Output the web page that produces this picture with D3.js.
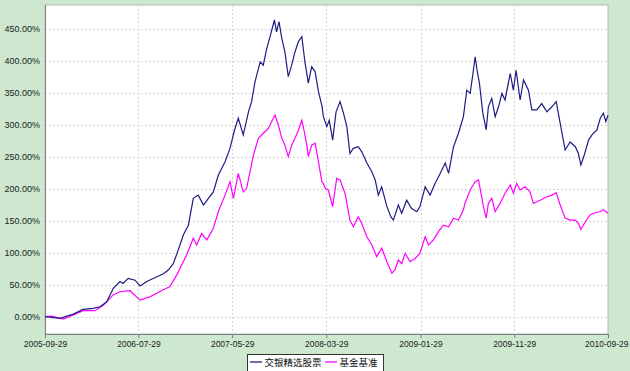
<!DOCTYPE html>
<html>
<head>
<meta charset="utf-8">
<script src="https://cdn.jsdelivr.net/npm/d3@7/dist/d3.min.js"></script>
<style>
  body { margin: 0; background: #cde8cf; }
  svg { display: block; font-family: "Liberation Sans", Arial, sans-serif; }
</style>
</head>
<body>
<svg width="630" height="371"></svg>
<script>
// fund: 交银精选股票 (cumulative return, %)
const fundDates = ["2005-09-29","2005-11-16","2005-12-30","2006-01-30","2006-03-04","2006-03-26","2006-04-17","2006-05-08","2006-05-30","2006-06-09","2006-06-26","2006-07-18","2006-08-03","2006-08-25","2006-09-27","2006-10-18","2006-11-03","2006-11-19","2006-12-05","2006-12-22","2007-01-07","2007-01-23","2007-02-08","2007-02-25","2007-03-13","2007-03-29","2007-04-14","2007-05-06","2007-05-22","2007-06-07","2007-06-18","2007-07-04","2007-07-21","2007-07-31","2007-08-11","2007-08-28","2007-09-07","2007-09-18","2007-09-29","2007-10-13","2007-10-20","2007-10-28","2007-11-06","2007-11-16","2007-11-27","2007-12-08","2007-12-19","2007-12-30","2008-01-10","2008-01-20","2008-01-31","2008-02-11","2008-02-22","2008-03-04","2008-03-15","2008-03-20","2008-03-31","2008-04-08","2008-04-19","2008-04-30","2008-05-13","2008-05-24","2008-06-04","2008-06-14","2008-06-25","2008-07-11","2008-07-22","2008-08-08","2008-08-24","2008-09-04","2008-09-14","2008-09-25","2008-10-12","2008-10-25","2008-11-02","2008-11-18","2008-11-29","2008-12-15","2008-12-31","2009-01-17","2009-01-27","2009-02-13","2009-03-01","2009-03-17","2009-04-03","2009-04-19","2009-04-30","2009-05-16","2009-06-01","2009-06-17","2009-06-28","2009-07-09","2009-07-18","2009-07-25","2009-08-02","2009-08-08","2009-08-19","2009-08-30","2009-09-06","2009-09-17","2009-09-28","2009-10-09","2009-10-20","2009-10-30","2009-11-16","2009-11-26","2009-12-05","2009-12-18","2009-12-29","2010-01-14","2010-01-25","2010-02-10","2010-02-26","2010-03-15","2010-03-31","2010-04-14","2010-04-27","2010-05-13","2010-05-29","2010-06-15","2010-06-25","2010-07-03","2010-07-14","2010-07-28","2010-08-08","2010-08-24","2010-09-04","2010-09-14","2010-09-22","2010-09-29"];
const fundValues = [0,-2.5,4,11.5,13,15.6,23,44,55,52,60,57,48,55,62.5,67,73,83,104,128,143,185,190,174.5,185,195,221,242,263,294,310,284,320,336,367,398,393,419,437.5,463.6,445,461,435,414,375,393,414,430,437.5,398,365,390.6,383,351.6,330,312.5,297,307,276,320,336,318,297,255,263,265.6,258,240,226.6,213.6,190,203,172,156,151,174.5,161.6,182,169,164,172,203,190,208,224,240,224,265.6,286.6,312.5,354,349,380,406,380,365,318,292,328,341,312.5,328,349,338.6,380,354,385,338.6,370,354,323,323,333,320,328,336,302,260.5,273,265.6,255,237,252.7,276,284,292,310,318,305,315];

// benchmark: 基金基准
const benchDates = ["2005-09-29","2005-10-21","2005-11-27","2005-12-30","2006-01-31","2006-03-10","2006-04-06","2006-05-08","2006-05-30","2006-07-02","2006-08-03","2006-09-04","2006-10-18","2006-11-08","2006-11-30","2006-12-11","2007-01-01","2007-01-23","2007-02-03","2007-02-19","2007-03-08","2007-03-29","2007-04-14","2007-05-06","2007-05-22","2007-06-02","2007-06-18","2007-07-04","2007-07-15","2007-07-26","2007-08-06","2007-08-22","2007-09-07","2007-09-23","2007-10-04","2007-10-15","2007-10-26","2007-11-06","2007-11-16","2007-11-27","2007-12-08","2007-12-19","2007-12-30","2008-01-10","2008-01-17","2008-01-26","2008-01-31","2008-02-11","2008-02-22","2008-03-04","2008-03-15","2008-03-20","2008-03-26","2008-04-05","2008-04-19","2008-05-02","2008-05-13","2008-05-29","2008-06-14","2008-06-25","2008-07-11","2008-07-22","2008-08-08","2008-08-24","2008-09-09","2008-09-25","2008-10-12","2008-10-28","2008-11-07","2008-11-18","2008-11-29","2008-12-10","2008-12-26","2009-01-11","2009-01-27","2009-02-13","2009-02-24","2009-03-12","2009-03-28","2009-04-13","2009-04-30","2009-05-16","2009-06-01","2009-06-17","2009-06-22","2009-07-09","2009-07-25","2009-08-05","2009-08-13","2009-08-21","2009-08-30","2009-09-06","2009-09-17","2009-09-28","2009-10-14","2009-10-30","2009-11-16","2009-11-26","2009-12-07","2009-12-18","2010-01-03","2010-01-19","2010-01-30","2010-02-21","2010-03-15","2010-03-31","2010-04-14","2010-04-27","2010-05-13","2010-05-29","2010-06-15","2010-06-25","2010-07-03","2010-07-17","2010-08-02","2010-08-18","2010-09-04","2010-09-14","2010-09-29"];
const benchValues = [0,1,-3.6,2.6,9.4,9.4,18,34,39,40.6,26,31,42,47,65,75.6,96,122.5,112,130,120,138,164,190,211,185,224,195,200.6,226.6,252.7,278.7,286.6,294,304.7,315,299.5,278.7,268,250,268,278.7,291.7,307,291.7,268,250,268,271,242,211,208,200.6,198,172,216,213.6,193,151,140.6,156,146,125,112,93.75,107,86,68,73,88.6,83,99,86,91,99,125,112,120,133,143,140.6,154,151,167,177,198,211,213.6,193,172,154,177,185,164,177,193,206,193,208,198,203,195,177,182,187.5,190,194,174.5,154,151,151,146,136.6,148,159,162.5,164,167,161.6];

const xTickLabels = ["2005-09-29","2006-07-29","2007-05-29","2008-03-29","2009-01-29","2009-11-29","2010-09-29"];
const yTicks = [0,50,100,150,200,250,300,350,400,450];
const seriesNames = ["交银精选股票","基金基准"];
const seriesColors = ["#1e1e82","#ff00ff"];

const parse = d3.timeParse("%Y-%m-%d");
const fund = fundDates.map((d, i) => ({date: parse(d), v: fundValues[i]}));
const bench = benchDates.map((d, i) => ({date: parse(d), v: benchValues[i]}));

const svg = d3.select("svg");
const plot = {left: 45, top: 5, right: 608, bottom: 334};

const x = d3.scaleTime()
  .domain([parse(xTickLabels[0]), parse(xTickLabels[xTickLabels.length - 1])])
  .range([plot.left, plot.right]);
const y = d3.scaleLinear()
  .domain([-27, 487])
  .range([plot.bottom, plot.top]);

// plot background
svg.append("rect")
  .attr("x", plot.left).attr("y", plot.top)
  .attr("width", plot.right - plot.left).attr("height", plot.bottom - plot.top)
  .attr("fill", "#fff")
  .attr("stroke", "#b8b8b8");

// gridlines
svg.append("g").selectAll("line").data(yTicks).join("line")
  .attr("x1", plot.left).attr("x2", plot.right)
  .attr("y1", d => Math.round(y(d)) + 0.5).attr("y2", d => Math.round(y(d)) + 0.5)
  .attr("stroke", "#d4d4d4").attr("stroke-dasharray", "2,2");
svg.append("g").selectAll("line").data(xTickLabels.slice(1, -1)).join("line")
  .attr("x1", d => Math.round(x(parse(d))) + 0.5).attr("x2", d => Math.round(x(parse(d))) + 0.5)
  .attr("y1", plot.top).attr("y2", plot.bottom)
  .attr("stroke", "#d4d4d4").attr("stroke-dasharray", "2,2");

// axes
const yAxis = d3.axisLeft(y).tickValues(yTicks).tickSize(0).tickPadding(5)
  .tickFormat(d => d3.format(".2f")(d) + "%");
const gy = svg.append("g").attr("transform", `translate(${plot.left},0)`).call(yAxis);
gy.select(".domain").remove();
gy.selectAll("text").attr("fill", "#222").style("font-size", "9px");

const xAxis = d3.axisBottom(x).tickValues(xTickLabels.map(parse)).tickSize(4).tickPadding(3)
  .tickFormat(d3.timeFormat("%Y-%m-%d"));
const gx = svg.append("g").attr("transform", `translate(0,${plot.bottom})`).call(xAxis);
gx.select(".domain").remove();
gx.selectAll("line").attr("stroke", "#808080");
gx.selectAll("text").attr("fill", "#222").style("font-size", "8.5px");
// keep the last date label inside the page
gx.selectAll(".tick:last-of-type text").attr("text-anchor", "end").attr("x", 20);

svg.append("line")
  .attr("x1", plot.left + 0.5).attr("x2", plot.left + 0.5)
  .attr("y1", plot.top).attr("y2", plot.bottom)
  .attr("stroke", "#808080");
svg.append("line")
  .attr("x1", plot.left).attr("x2", plot.right)
  .attr("y1", plot.bottom + 0.5).attr("y2", plot.bottom + 0.5)
  .attr("stroke", "#808080");

// lines
const line = d3.line().x(d => x(d.date)).y(d => y(d.v));
svg.append("path").datum(bench)
  .attr("d", line).attr("fill", "none")
  .attr("stroke", seriesColors[1]).attr("stroke-width", 1.2);
svg.append("path").datum(fund)
  .attr("d", line).attr("fill", "none")
  .attr("stroke", seriesColors[0]).attr("stroke-width", 1.2);

// legend
const legend = svg.append("g").attr("transform", "translate(247.5,354.5)");
legend.append("rect")
  .attr("width", 136).attr("height", 24)
  .attr("fill", "#fff").attr("stroke", "#333");
const itemX = [2.5, 77.5];
seriesNames.forEach((name, i) => {
  legend.append("line")
    .attr("x1", itemX[i]).attr("x2", itemX[i] + 12)
    .attr("y1", 7.5).attr("y2", 7.5)
    .attr("stroke", seriesColors[i]).attr("stroke-width", 1.3);
  legend.append("text")
    .attr("x", itemX[i] + 14.5).attr("y", 11)
    .attr("fill", "#111")
    .style("font-family", "'Noto Sans CJK SC', sans-serif")
    .style("font-size", "9.5px")
    .text(name);
});
</script>
</body>
</html>
